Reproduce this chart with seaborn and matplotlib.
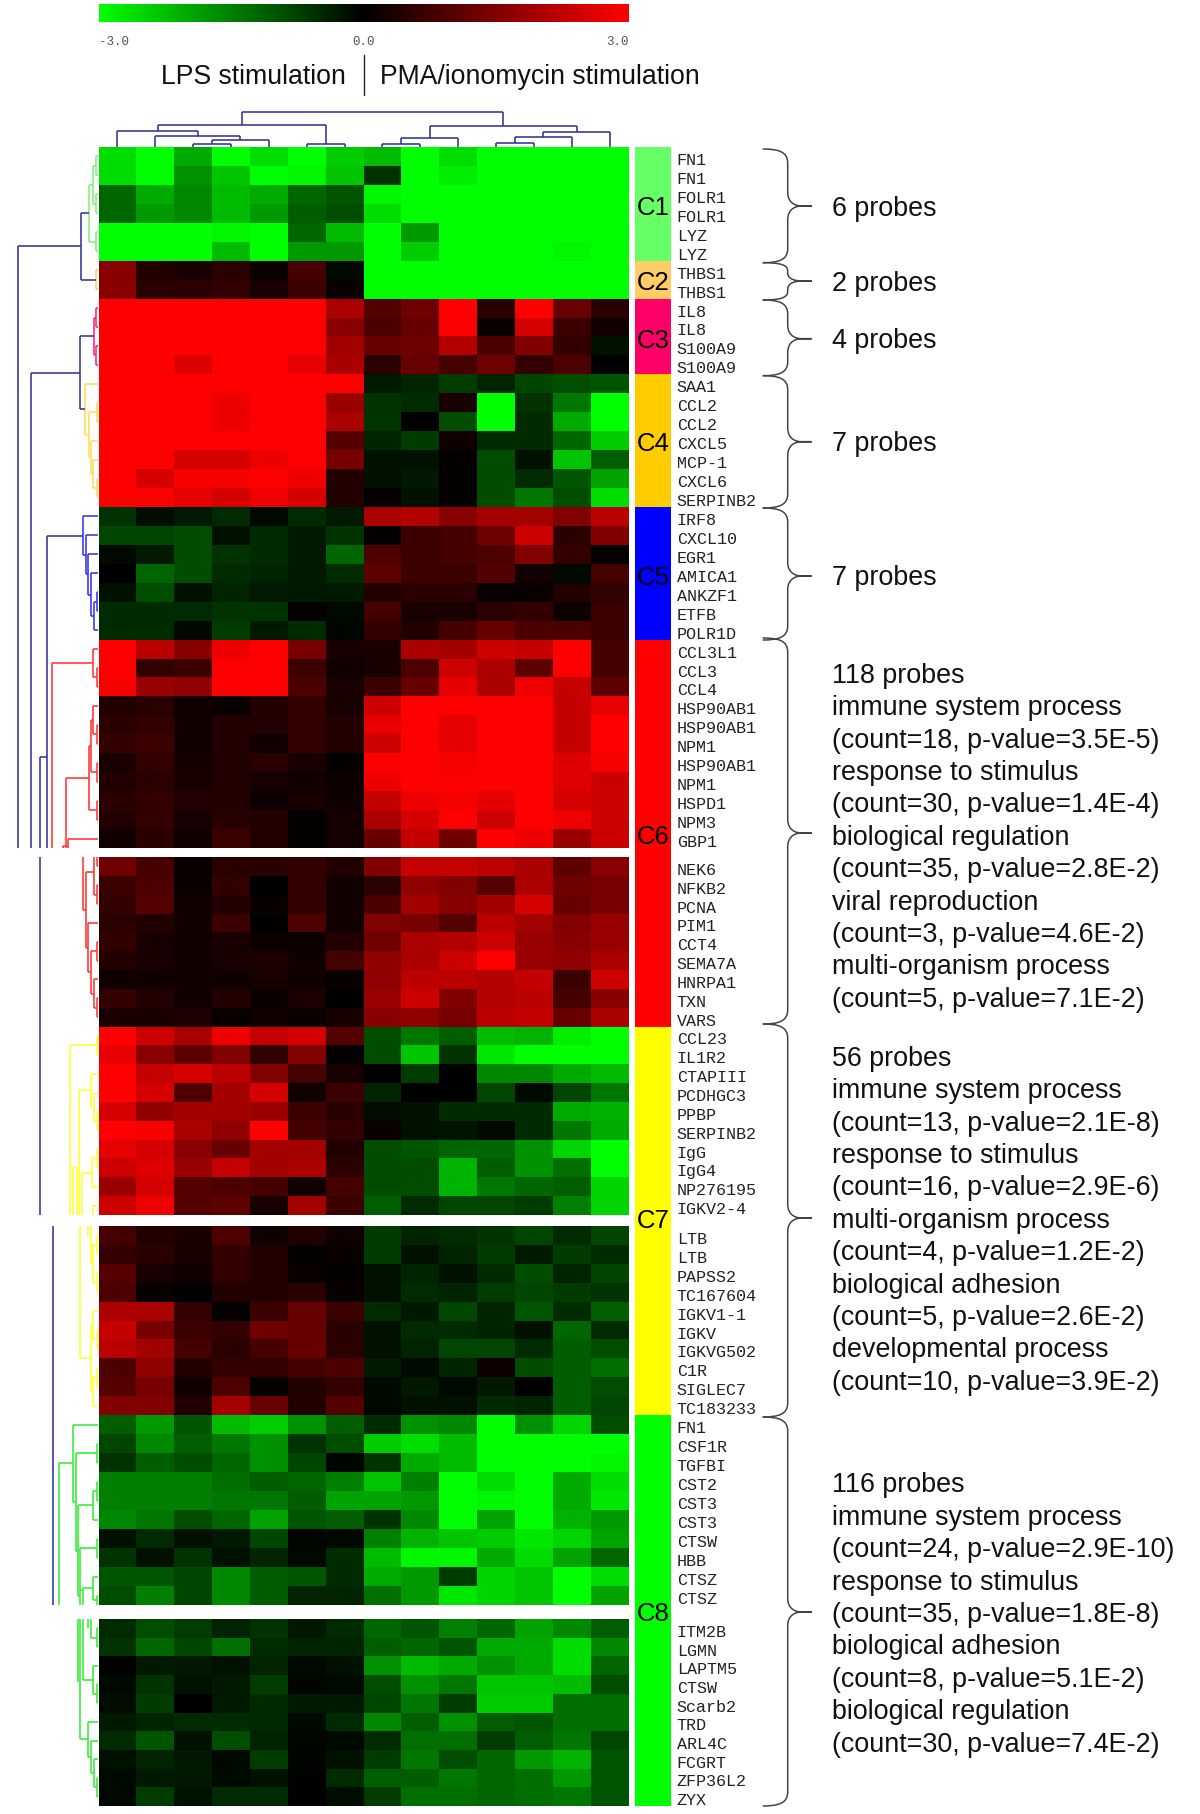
import numpy as np
import matplotlib
matplotlib.use("Agg")
import matplotlib.pyplot as plt
import matplotlib.transforms as mtrans
from matplotlib.colors import LinearSegmentedColormap, Normalize
from matplotlib.path import Path
from matplotlib.patches import PathPatch, Rectangle
import seaborn as sns

sns.set_theme(style="white")
plt.rcParams["font.family"] = ["Liberation Sans", "DejaVu Sans"]

# ---------------- data: expression values (log ratio) per cluster ----------------
C1 = [[-2.6,-3,-2.0,-3,-2.6,-3,-2.4,-2.2,-3,-2.6,-3,-3,-3,-3],
      [-2.6,-3,-1.7,-2.3,-3,-2.9,-2.3,-0.6,-3,-2.8,-3,-3,-3,-3],
      [-1.2,-2.0,-1.6,-2.2,-2.0,-1.2,-1.0,-2.9,-3,-3,-3,-3,-3,-3],
      [-1.2,-1.8,-1.6,-2.2,-1.8,-1.1,-0.9,-2.6,-3,-3,-3,-3,-3,-3],
      [-3,-3,-3,-2.9,-3,-1.2,-2.2,-3,-1.8,-3,-3,-3,-3,-3],
      [-3,-3,-3,-2.2,-3,-1.8,-1.8,-3,-2.4,-3,-3,-3,-2.9,-3]]
C2 = [[1.6,0.4,0.3,0.5,0.1,0.8,-0.1,-3,-3,-3,-3,-3,-3,-3],
      [1.6,0.5,0.5,0.6,0.3,0.7,0.1,-3,-3,-3,-3,-3,-3,-3]]
C3 = [[3,3,3,3,3,3,2.0,1.0,1.3,3,0.5,3,1.2,0.5],
      [3,3,3,3,3,3,1.6,0.9,1.2,3,0.1,2.5,0.7,0.2],
      [3,3,3,3,3,3,1.9,1.2,1.3,2.1,0.9,1.5,0.6,-0.2],
      [3,3,2.6,3,3,2.7,2.0,0.5,1.2,0.8,1.3,0.6,0.9,0.0]]
C4 = [[3,3,3,3,3,3,3,-0.3,-0.4,-0.7,-0.4,-0.8,-0.9,-1.0],
      [3,3,3,2.8,3,3,1.8,-0.6,-0.5,0.3,-3,-0.6,-1.4,-3],
      [3,3,3,2.8,3,3,2.0,-0.6,0.0,-0.9,-3,-0.5,-2.0,-3],
      [3,3,3,3,3,3,1.0,-0.4,-0.7,0.2,-0.5,-0.5,-1.2,-2.4],
      [3,3,2.5,2.5,2.8,3,1.4,-0.2,-0.2,0.05,-0.9,-0.2,-2.3,-1.1],
      [3,2.5,2.9,2.9,3,2.8,0.4,-0.2,-0.3,0.05,-0.9,-0.5,-1.0,-1.9],
      [3,3,2.7,2.5,2.8,2.5,0.4,0.05,-0.2,0.05,-0.9,-1.4,-0.9,-2.6]]
C5 = [[-0.6,-0.15,-0.3,-0.5,-0.1,-0.5,-0.3,2.0,2.1,1.6,1.9,1.9,1.5,2.2],
      [-0.8,-0.8,-0.9,-0.2,-0.5,-0.3,-0.6,0.05,0.7,0.8,1.3,2.4,0.5,1.5],
      [-0.1,-0.3,-0.9,-0.6,-0.5,-0.3,-1.2,0.9,0.7,0.8,0.9,1.5,0.6,0.05],
      [0,-1.2,-0.9,-0.5,-0.4,-0.3,-0.5,1.1,0.7,0.7,1.0,0.2,-0.1,0.8],
      [-0.2,-0.9,-0.2,-0.4,-0.3,-0.3,-0.3,0.4,0.5,0.5,0.1,0.1,0.4,0.6],
      [-0.5,-0.5,-0.5,-0.6,-0.6,0.05,-0.1,0.8,0.3,0.3,0.5,0.6,0.15,0.7],
      [-0.5,-0.5,-0.1,-0.7,-0.3,-0.5,-0.05,0.6,0.4,0.8,1.2,0.9,0.9,0.7]]
C6a = [[3,2.2,1.6,2.8,3,1.4,0.3,0.3,2.0,1.9,2.4,2.3,3,0.8],
       [3,0.6,0.7,3,3,0.7,0.2,0.3,0.9,2.4,2.0,1.1,3,0.8],
       [2.9,1.8,1.7,3,3,0.9,0.3,0.7,1.2,2.7,2.0,2.8,2.3,1.1],
       [0.4,0.5,0.2,0.1,0.4,0.6,0.3,2.4,3,3,3,3,2.3,2.7],
       [0.5,0.6,0.2,0.4,0.4,0.6,0.4,2.7,3,2.7,3,3,2.3,3],
       [0.6,0.7,0.2,0.4,0.2,0.6,0.4,2.4,3,2.7,3,3,2.3,3],
       [0.3,0.6,0.3,0.4,0.5,0.3,0.05,3,3,2.9,3,3,2.6,2.9],
       [0.4,0.5,0.3,0.4,0.3,0.2,0.15,2.8,3,3,3,3,2.6,2.4],
       [0.5,0.6,0.4,0.4,0.15,0.3,0.2,2.3,2.8,2.9,2.7,3,2.5,2.4],
       [0.4,0.6,0.3,0.45,0.4,0.05,0.25,2.0,2.5,3,2.4,3,2.8,2.4],
       [0.2,0.5,0.2,0.7,0.4,0.05,0.25,1.2,2.3,1.3,3,2.8,1.8,2.4]]
C6b = [[1.3,0.8,0.1,0.5,0.5,0.6,0.4,1.5,2.3,2.3,2.2,2.0,1.1,1.6],
       [0.7,0.9,0.1,0.6,0.02,0.6,0.2,0.5,1.7,1.5,1.0,2.0,1.3,1.4],
       [0.6,1.0,0.2,0.4,0.1,0.6,0.2,0.9,1.9,1.6,1.9,2.5,1.2,1.4],
       [0.5,0.4,0.2,0.7,0.02,0.9,0.2,1.5,1.4,1.0,2.2,1.9,1.5,1.8],
       [0.6,0.3,0.2,0.3,0.15,0.15,0.4,1.3,2.0,2.1,2.4,1.8,1.6,1.8],
       [0.4,0.3,0.2,0.3,0.35,0.2,0.8,1.7,2.0,2.4,3,1.8,1.7,2.0],
       [0.2,0.2,0.2,0.2,0.3,0.2,0.1,1.7,2.2,2.2,2.1,2.3,0.7,2.4],
       [0.6,0.4,0.2,0.4,0.1,0.35,0.0,1.8,2.4,1.5,2.1,2.2,0.8,1.6],
       [0.3,0.3,0.35,0.1,0.2,0.1,0.3,1.6,1.7,1.4,2.2,2.3,1.2,2.0]]
C7a = [[3,2.4,2.0,2.8,2.3,2.5,1.0,-0.9,-1.4,-1.1,-2.2,-2.1,-2.8,-3],
       [2.7,1.6,1.1,1.5,0.6,1.5,0.05,-0.9,-2.3,-0.6,-2.7,-3,-3,-3],
       [3,2.3,2.5,2.2,1.5,0.8,0.3,0.02,-0.7,0,-1.6,-1.6,-2,-2.2],
       [3,2.5,0.9,1.9,2.5,0.2,0.7,-0.4,0,0,-0.8,-0.1,-0.8,-1.4],
       [2.5,1.7,1.9,1.9,1.8,0.7,0.5,-0.15,-0.2,-0.5,-0.5,-0.5,-2,-2.1],
       [3,2.9,2.0,1.7,3,0.8,0.6,0.1,-0.2,-0.25,-0.1,-0.5,-1.4,-2],
       [2.7,2.5,1.6,1.2,1.9,1.9,0.4,-0.9,-1.0,-1.2,-1.2,-1.7,-2.5,-3],
       [2.4,2.6,1.8,2.3,1.9,2.0,0.5,-0.9,-0.9,-2.1,-1.1,-1.7,-1.3,-3],
       [1.8,2.5,1,0.9,0.8,0.2,0.8,-0.9,-0.9,-2.1,-1.4,-1.2,-1.1,-2.5],
       [2.4,2.8,1,1.1,0.3,1.9,0.7,-1.1,-0.5,-0.8,-0.8,-0.7,-1.5,-2.5]]
C7b = [[0.8,0.4,0.3,0.9,0.2,0.4,0.2,-0.7,-0.4,-0.5,-0.6,-0.8,-0.5,-0.8],
       [0.6,0.5,0.3,0.6,0.4,0.05,0.1,-0.7,-0.2,-0.4,-0.7,-0.3,-0.7,-0.5],
       [1,0.3,0.2,0.6,0.4,0.1,0.05,-0.2,-0.4,-0.2,-0.5,-0.9,-0.4,-0.8],
       [0.9,0.1,0.02,0.4,0.4,0.5,0.1,-0.2,-0.5,-0.4,-0.7,-0.8,-0.7,-0.6],
       [2,2,0.6,0.05,0.7,1.2,0.7,-0.5,-0.3,-0.8,-0.4,-1,-0.5,-1.1],
       [2.3,1.4,0.7,0.6,1.3,1.2,0.5,-0.2,-0.5,-0.5,-0.4,-0.2,-1.2,-0.5],
       [2.2,1.9,0.8,0.5,0.8,1.2,0.5,-0.2,-0.4,-0.8,-0.8,-0.5,-1.1,-0.9],
       [0.9,1.7,0.4,0.6,0.6,0.8,0.9,-0.3,-0.1,-0.4,0.15,-0.9,-1.1,-1.3],
       [1,1.4,0.2,0.9,0.05,0.4,0.6,-0.1,-0.3,-0.1,-0.3,0,-1.1,-0.9],
       [1.5,1.5,0.4,1.9,1.2,0.4,1.0,-0.1,-0.2,-0.2,-0.5,-0.4,-1.1,-0.8]]
C8a = [[-1.1,-1.8,-1,-2.2,-2.4,-1.7,-1.1,-0.5,-1.7,-1.6,-3,-1.7,-2.5,-0.9],
       [-0.8,-1.6,-1.1,-1.4,-1.7,-0.6,-0.9,-2.4,-2.6,-2.2,-3,-3,-3,-3],
       [-0.6,-1.1,-0.9,-1.2,-1.7,-0.8,-0.05,-0.6,-2,-2.2,-3,-3,-3,-2.9],
       [-1.5,-1.5,-1.5,-1.3,-1.1,-1.2,-1.5,-2.3,-1.5,-3,-2.6,-3,-2,-2.6],
       [-1.5,-1.5,-1.5,-1.4,-1.4,-1.1,-1.9,-1.9,-1.8,-3,-2.9,-3,-2,-2.7],
       [-1.6,-1.4,-0.9,-1.2,-1.9,-1,-1.1,-0.6,-1.6,-3,-1.9,-3,-2.1,-1.8],
       [-0.2,-0.5,-0.2,-0.3,-0.8,-0.05,-0.1,-1.5,-2.1,-2.3,-2.4,-2.7,-2.5,-1.9],
       [-0.6,-0.2,-0.6,-0.2,-0.4,-0.1,-0.5,-2.2,-2.9,-2.9,-2,-2.6,-1.9,-1.2],
       [-1,-1,-0.8,-1.6,-1.1,-1,-0.5,-2,-1.8,-0.7,-2.5,-2.3,-3,-2.6],
       [-0.9,-1.5,-0.8,-1.6,-1.1,-0.4,-0.4,-1.3,-1.8,-2.7,-2.5,-2.3,-3,-1.9]]
C8b = [[-0.5,-0.9,-0.7,-0.4,-0.6,-0.3,-0.5,-1.2,-1,-1.5,-1.2,-1.9,-1.6,-1.1],
       [-0.6,-1.2,-0.8,-1.3,-0.5,-0.4,-0.4,-1.1,-1.2,-1,-2,-2,-2.6,-1.6],
       [-0.02,-0.3,-0.3,-0.2,-0.4,-0.1,-0.2,-1.7,-2.2,-2,-1.7,-2,-2.6,-1.2],
       [-0.1,-0.6,-0.2,-0.3,-0.7,-0.05,-0.1,-0.9,-1.7,-1.4,-2.3,-2.3,-2.2,-0.9],
       [-0.15,-0.7,0,-0.3,-0.5,-0.3,-0.3,-0.8,-1.4,-0.7,-2.4,-2.4,-1.3,-1.3],
       [-0.3,-0.4,-0.5,-0.5,-0.5,-0.1,-0.5,-1.6,-1.1,-1.7,-1.1,-1,-1.3,-1.3],
       [-0.5,-1,-0.2,-0.9,-0.4,-0.05,-0.1,-0.5,-1.3,-1.3,-0.7,-1.1,-1.4,-0.8],
       [-0.2,-0.4,-0.3,-0.1,-0.7,-0.05,-0.2,-0.7,-1.4,-0.9,-1.2,-1.8,-2.1,-1.0],
       [-0.1,-0.3,-0.3,-0.1,-0.2,-0.02,-0.5,-1.1,-1.1,-1.4,-1.2,-1.3,-1.8,-1.0],
       [-0.1,-0.7,-0.2,-0.5,-0.5,-0.02,-0.15,-0.7,-1.3,-1.3,-1.2,-1.3,-1.4,-1]]

# ---------------- data: probe labels ----------------
L_A = ["FN1","FN1","FOLR1","FOLR1","LYZ","LYZ","THBS1","THBS1","IL8","IL8","S100A9","S100A9",
       "SAA1","CCL2","CCL2","CXCL5","MCP-1","CXCL6","SERPINB2",
       "IRF8","CXCL10","EGR1","AMICA1","ANKZF1","ETFB","POLR1D",
       "CCL3L1","CCL3","CCL4","HSP90AB1","HSP90AB1","NPM1","HSP90AB1","NPM1","HSPD1","NPM3","GBP1"]
L_B = ["NEK6","NFKB2","PCNA","PIM1","CCT4","SEMA7A","HNRPA1","TXN","VARS",
       "CCL23","IL1R2","CTAPIII","PCDHGC3","PPBP","SERPINB2","IgG","IgG4","NP276195","IGKV2-4"]
L_C = ["LTB","LTB","PAPSS2","TC167604","IGKV1-1","IGKV","IGKVG502","C1R","SIGLEC7","TC183233",
       "FN1","CSF1R","TGFBI","CST2","CST3","CST3","CTSW","HBB","CTSZ","CTSZ"]
L_D = ["ITM2B","LGMN","LAPTM5","CTSW","Scarb2","TRD","ARL4C","FCGRT","ZFP36L2","ZYX"]

CL_NAMES = ["C1","C2","C3","C4","C5","C6","C7","C8"]
CL_COLORS = ["#66FF66","#FFCC66","#FF0066","#FFCC00","#0000FF","#FF0000","#FFFF00","#00FF00"]
CL_EDGES = [0,6,8,12,19,26,46,66,86]

PROBE_NOTES = [["6 probes"],["2 probes"],["4 probes"],["7 probes"],["7 probes"]]
NOTE_C6 = ["118 probes","immune system process","(count=18, p-value=3.5E-5)","response to stimulus",
           "(count=30, p-value=1.4E-4)","biological regulation","(count=35, p-value=2.8E-2)",
           "viral reproduction","(count=3, p-value=4.6E-2)","multi-organism process","(count=5, p-value=7.1E-2)"]
NOTE_C7 = ["56 probes","immune system process","(count=13, p-value=2.1E-8)","response to stimulus",
           "(count=16, p-value=2.9E-6)","multi-organism process","(count=4, p-value=1.2E-2)",
           "biological adhesion","(count=5, p-value=2.6E-2)","developmental process","(count=10, p-value=3.9E-2)"]
NOTE_C8 = ["116 probes","immune system process","(count=24, p-value=2.9E-10)","response to stimulus",
           "(count=35, p-value=1.8E-8)","biological adhesion","(count=8, p-value=5.1E-2)",
           "biological regulation","(count=30, p-value=7.4E-2)"]

# ---------------- data: dendrograms as (depth, child, child[, arm position]) ----------------
def cut(r):
    return ("cut", r)
def col(c, tree):
    return ("col", c, tree)

COL_TREE = (34.3,
            (22, (16, 0, (10.7, 1, (6.7, (3.3, 2, 3), 4))), (3, 5, 6)),
            (21, (8.7, (3, 7, 8), 9), (14.3, (9.7, (4, 10, 11), 12), 13)))

T_C1 = (9.7, (5.7, (2, 0, 1), (2, 2, 3)), (2, 4, 5))
T_C2 = (2, 6, 7)
T_C3 = (4.7, (2, 8, 9), (2, 10, 11))
T_C4 = (13.3, 12, (9.7, (1.7, 13, 14), (7.3, 15, (5, 16, (1.7, 17, 18)))))
T_C5 = (15, 19, (12.3, 20, (10, 21, (7.3, 22, (4.3, (1.7, 23, 24), 25)))))
BLUE = "#333399"; LGREEN = "#80F080"; ORNG = "#FFCC66"; PINK = "#FF2277"
YEL1 = "#FFDD55"; BLU2 = "#3333EE"; RED = "#FF3333"; YEL = "#FFFF33"; GRN = "#33EE33"

ROW_TREES = [
    (BLUE, (80.7, (17.7, col(LGREEN, T_C1), col(ORNG, T_C2)), cut(37))),
    (BLUE, (67.7, (18.3, col(PINK, T_C3), col(YEL1, T_C4)), cut(37))),
    (BLUE, (58.7, (51.3, col(BLU2, T_C5), cut(37), 32.2), cut(56))),
    (BLUE, (45, cut(56), cut(76))),
    (RED, (46.7, (5, 26, (1.7, 27, 28)), cut(37))),
    (RED, (32.3, (9.7, (7.7, (5, 29, (1.7, 30, 31)), (1.7, 32, 33)), (1.7, 34, 35)), cut(37))),
    (RED, (35, (30, 36, cut(37), 36.9), cut(37))),
    (RED, (1.7, cut(37), 37)),
    (RED, (15, cut(37), (12.3, (4.3, cut(37), (1.7, 38, 39), 37.8),
                         (10, 40, (7.3, (1.7, 41, 42), (4.3, 43, (1.7, 44, 45))))))),
    (YEL, (28.7, (1.7, 46, 47), cut(56))),
    (YEL, (19.7, (7.7, 48, (4.3, 49, (1.7, 50, 51))), cut(56))),
    (YEL, (25.7, (21, cut(53.43), cut(56), 53.43), cut(56))),
    (YEL, (16.7, (6, (1.7, 52, 53), 54), cut(56))),
    (YEL, (5, 55, cut(56))),
    (YEL, (10, cut(56), cut(56.6))),
    (YEL, (7.3, cut(56), (5, (1.7, 56, 57), (1.7, 58, 59)))),
    (YEL, (18, cut(56), (7.7, (5, 60, (1.7, 61, 62)), (5, (1.7, 63, 64), 65)))),
    (GRN, (39, (25.3, 66, (22, (1.7, 67, 68),
                           (20, (5, (1.7, 69, 70), 71),
                            (18, (1.7, 72, 73), cut(76), 75.53)))), cut(76))),
    (GRN, (18, (15, (5, 74, (1.7, 75, cut(76))), cut(76), 75.2), cut(75.2))),
    (GRN, (20, cut(76), cut(79.36))),
    (GRN, (10, cut(76), cut(76.5))),
    (GRN, (7.3, cut(76), (1.7, 76, 77))),
    (GRN, (18, cut(76), (10, 81, (7.3, 82, (4.3, 83, (1.7, 84, 85)))))),
    (GRN, (15, cut(76), (5, 78, (1.7, 79, 80)))),
]

# ---------------- layout (reference pixels) ----------------
W, H = 1200, 1814
HX0, HX1 = 98.5, 628.6
SEC_ROWS = [(0, 37), (37, 56), (56, 76), (76, 86)]
SEC_PX = [(147.0, 848.0), (857.0, 1215.0), (1225.7, 1605.0), (1619.0, 1806.0)]

def row_px(r):
    for (a, b), (t, u) in zip(SEC_ROWS, SEC_PX):
        if r <= b:
            return t + (r - a) * (u - t) / (b - a)
    return SEC_PX[-1][1]

fig = plt.figure(figsize=(W / 100, H / 100), dpi=100, facecolor="white")

def axes_px(x0, y0, x1, y1, **kw):
    return fig.add_axes([x0 / W, 1 - y1 / H, (x1 - x0) / W, (y1 - y0) / H], **kw)

cmap = LinearSegmentedColormap.from_list("gbr", ["#00FF00", "#000000", "#FF0000"])
DATA = [np.array(C1 + C2 + C3 + C4 + C5 + C6a, dtype=float),
        np.array(C6b + C7a, dtype=float),
        np.array(C7b + C8a, dtype=float),
        np.array(C8b, dtype=float)]
LABELS = [L_A, L_B, L_C, L_D]

def draw_tree(ax, node, color, vert):
    if isinstance(node, int):
        return node + 0.5, 0.0
    if node[0] == "cut":
        return node[1], None
    if node[0] == "col":
        return draw_tree(ax, node[2], node[1], vert)
    d, a, b, *rest = node
    ya, da = draw_tree(ax, a, color, vert)
    yb, db = draw_tree(ax, b, color, vert)
    y = rest[0] if rest else (ya + yb) / 2
    segs = [([d, d], [ya, yb])]
    if da is not None:
        segs.append(([d, da], [ya, ya]))
    if db is not None:
        segs.append(([d, db], [yb, yb]))
    for ds, ps in segs:
        if vert:
            ax.plot(ps, ds, color=color, lw=1.15, solid_capstyle="butt")
        else:
            ax.plot(ds, ps, color=color, lw=1.15, solid_capstyle="butt")
    return y, d

# heatmaps + probe labels + row dendrograms
offset = mtrans.ScaledTranslation(0, -2.5 / 100, fig.dpi_scale_trans)
for data, labels, (a, b), (t, u) in zip(DATA, LABELS, SEC_ROWS, SEC_PX):
    ax = axes_px(HX0, t, HX1, u)
    sns.heatmap(data, ax=ax, cmap=cmap, vmin=-3, vmax=3, cbar=False,
                xticklabels=False, yticklabels=labels)
    ax.yaxis.tick_right()
    ax.tick_params(axis="y", length=0, pad=34.6, labelrotation=0, labelright=True, labelleft=False)
    for lab in ax.get_yticklabels():
        lab.set_fontfamily("Liberation Mono")
        lab.set_fontsize(12.1)
        lab.set_color("#222222")
        lab.set_transform(lab.get_transform() + offset)
    dax = axes_px(0, t, HX0, u)
    dax.set_xlim(HX0, 0)
    dax.set_ylim(b, a)
    dax.axis("off")
    for color, tree in ROW_TREES:
        draw_tree(dax, tree, color, False)

# column dendrogram
tax = axes_px(HX0, 112, HX1, 147)
tax.set_xlim(0, 14)
tax.set_ylim(0, 34.3)
tax.axis("off")
draw_tree(tax, COL_TREE, BLUE, True)
for ln in tax.lines:
    ln.set_clip_on(False)

# colour scale
cax = axes_px(HX0, 4, HX1, 22)
cb = fig.colorbar(plt.cm.ScalarMappable(norm=Normalize(-3, 3), cmap=cmap), cax=cax,
                  orientation="horizontal", ticks=[-3, 0, 3])
cb.outline.set_visible(False)
cax.tick_params(axis="x", length=0, pad=10)
cax.set_xticklabels(["-3.0", "0.0", "3.0"], fontfamily="Liberation Mono", fontsize=9, color="#555555")
for lab, ha in zip(cax.get_xticklabels(), ["left", "center", "right"]):
    lab.set_ha(ha)

# overlay in reference pixels
ov = axes_px(0, 0, W, H, facecolor="none", zorder=10)
ov.set_xlim(0, W)
ov.set_ylim(H, 0)
ov.axis("off")

ov.text(253, 77, "LPS stimulation", ha="center", va="center", fontsize=19.2, color="#111111")
ov.text(539.5, 77, "PMA/ionomycin stimulation", ha="center", va="center", fontsize=19.2, color="#111111")
ov.plot([363.5, 363.5], [55, 95], color="#222222", lw=1.0)

# cluster bar
for i, (name, c) in enumerate(zip(CL_NAMES, CL_COLORS)):
    y0, y1 = row_px(CL_EDGES[i]), row_px(CL_EDGES[i + 1])
    ov.add_patch(Rectangle((634.7, y0), 36.3, y1 - y0, facecolor=c, edgecolor="none"))
CL_TEXT_Y = [208, 283, 341, 444, 578, 837, 1221, 1614]
for name, y in zip(CL_NAMES, CL_TEXT_Y):
    ov.text(653, y, name, ha="center", va="center", fontsize=18.5, color="black")

# braces
def brace(top, bottom, tip):
    xl, xs, xr = 762.7, 787.7, 811.7
    r1 = min(14, (tip - top) * 0.45)
    r2 = min(14, (bottom - tip) * 0.45)
    verts = [(xl, top), (xl + 16, top), (xs, top + r1 * 0.2), (xs, top + r1),
             (xs, tip - r1), (xs, tip - r1 * 0.2), (xs + 8, tip), (xs + 14, tip), (xr, tip),
             (xs + 14, tip), (xs + 8, tip), (xs, tip + r2 * 0.2), (xs, tip + r2),
             (xs, bottom - r2), (xs, bottom - r2 * 0.2), (xl + 16, bottom), (xl, bottom)]
    codes = [Path.MOVETO, Path.CURVE4, Path.CURVE4, Path.CURVE4,
             Path.LINETO, Path.CURVE4, Path.CURVE4, Path.CURVE4, Path.LINETO,
             Path.LINETO, Path.CURVE4, Path.CURVE4, Path.CURVE4,
             Path.LINETO, Path.CURVE4, Path.CURVE4, Path.CURVE4]
    ov.add_patch(PathPatch(Path(verts, codes), facecolor="none", edgecolor="#444444", lw=1.1))

BRACE_TOP = [149, 262.7, 300, 375.7, 508, 638, 1024, 1417]
BRACE_BOT = [262.7, 300, 375.7, 508, 640, 1024, 1417, 1806]
BRACE_TIP = [206, 281, 338.7, 441.7, 576, 833, 1218, 1612]
for t, b, m in zip(BRACE_TOP, BRACE_BOT, BRACE_TIP):
    brace(t, b, m)

# annotation text
for note, y in zip(PROBE_NOTES, [209.3, 284.3, 341.3, 444.3, 578.3]):
    ov.text(832, y, note[0], ha="left", va="center", fontsize=19.4, color="#111111")
for lines, y0 in zip([NOTE_C6, NOTE_C7, NOTE_C8], [675.8, 1058.8, 1485.3]):
    for i, line in enumerate(lines):
        ov.text(832, y0 + i * 32.4, line, ha="left", va="center", fontsize=19.4, color="#111111")

fig.savefig("out.png", dpi=100, facecolor="white")
